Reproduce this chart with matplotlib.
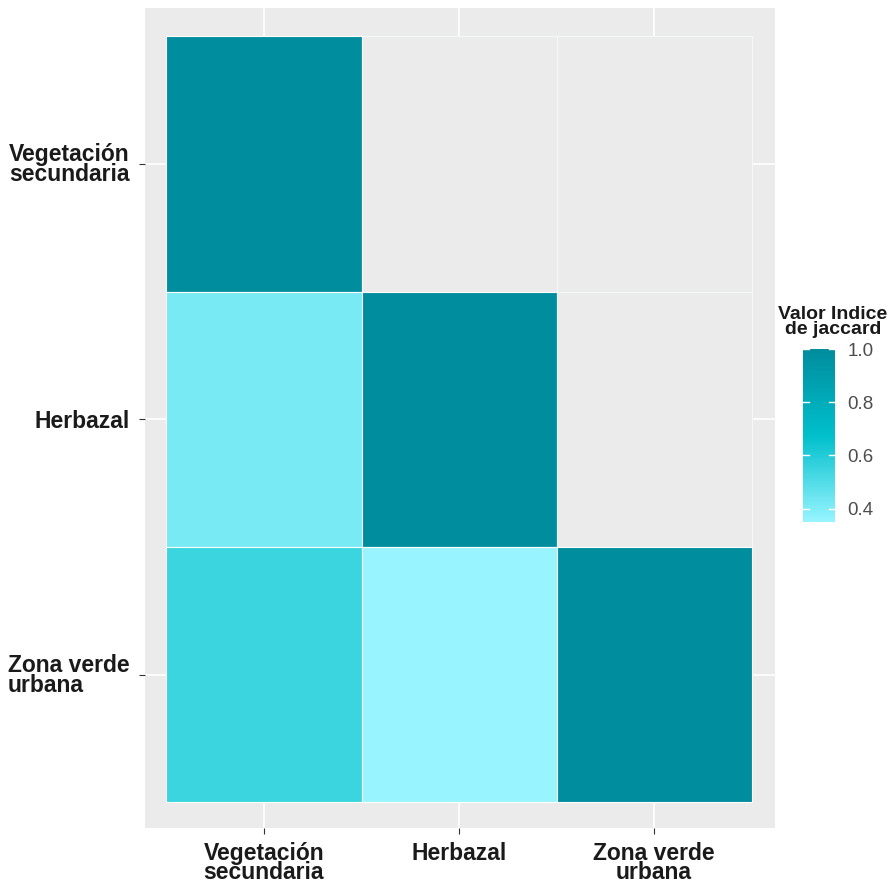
import matplotlib.pyplot as plt
import numpy as np
from matplotlib.colors import LinearSegmentedColormap, Normalize

plt.rcParams['font.family'] = ['Liberation Sans', 'DejaVu Sans']

habitats = ["Vegetación\nsecundaria", "Herbazal", "Zona verde\nurbana"]
# jaccard matrix, lower triangle only (rows = y, cols = x), nan = empty
jaccard = [
    [1.00, np.nan, np.nan],
    [0.42, 1.00, np.nan],
    [0.55, 0.35, 1.00],
]
legend_ticks = [0.4, 0.6, 0.8, 1.0]

cmap = LinearSegmentedColormap.from_list("jac", ["#98F5FF", "#00C0CC", "#008D9E"])
vals = np.array(jaccard, dtype=float)
norm = Normalize(vmin=np.nanmin(vals), vmax=np.nanmax(vals))

fig = plt.figure(figsize=(8.89, 8.85), dpi=100)
ax = fig.add_axes([145/889, 57/885, 630/889, 820/885])
ax.set_facecolor("#EBEBEB")

n = len(habitats)
ypos = {i: n - i for i in range(n)}  # first habitat on top
for i in range(n):
    for j in range(n):
        v = vals[i][j]
        fc = "#EBEBEB" if np.isnan(v) else cmap(norm(v))
        ec = "#F4F8F8" if np.isnan(v) else "white"
        ax.add_patch(plt.Rectangle((j + 1 - 0.5, ypos[i] - 0.5), 1, 1,
                                   facecolor=fc, edgecolor=ec, lw=0.8, zorder=2))

ax.set_xlim(0.39, 3.62)
ax.set_ylim(0.4, 3.61)
ax.set_xticks(range(1, n + 1))
ax.set_xticklabels(habitats, fontsize=16.5, fontweight="bold", color="#1a1a1a",
                   linespacing=0.8)
ax.set_yticks([ypos[i] for i in range(n)])
ax.set_yticklabels(habitats, fontsize=16.5, fontweight="bold", color="#1a1a1a",
                   linespacing=0.8, ha="right", multialignment="left")
ax.tick_params(axis="y", pad=7)
ax.tick_params(axis="x", pad=6)
ax.tick_params(length=4, color="#333333", width=0.8)
ax.grid(color="white", lw=1.2, zorder=1)
ax.set_axisbelow(True)
for s in ax.spines.values():
    s.set_visible(False)

# colorbar
cax = fig.add_axes([803/889, (885-522)/885, 32/889, 173/885])
grad = np.linspace(norm.vmin, norm.vmax, 256).reshape(-1, 1)
cax.imshow(grad, aspect="auto", cmap=cmap, norm=norm, origin="lower",
           extent=[0, 1, norm.vmin, norm.vmax])
cax.set_xticks([])
cax.yaxis.tick_right()
cax.set_yticks(legend_ticks)
cax.set_yticklabels([f"{t:.1f}" for t in legend_ticks], fontsize=13.5, color="#4D4D4D")
cax.tick_params(axis="y", length=0, pad=9)
for t in legend_ticks:
    cax.plot([0, 0.2], [t, t], color="white", lw=1)
    cax.plot([0.8, 1], [t, t], color="white", lw=1)
cax.set_xlim(0, 1)
cax.set_ylim(norm.vmin, norm.vmax)
for s in cax.spines.values():
    s.set_visible(False)
fig.text(833/889, (885-322)/885, "Valor Indice\nde jaccard", fontsize=14,
         fontweight="bold", color="#1a1a1a", ha="center", va="center",
         linespacing=0.85)

fig.savefig("out.png", dpi=100)
